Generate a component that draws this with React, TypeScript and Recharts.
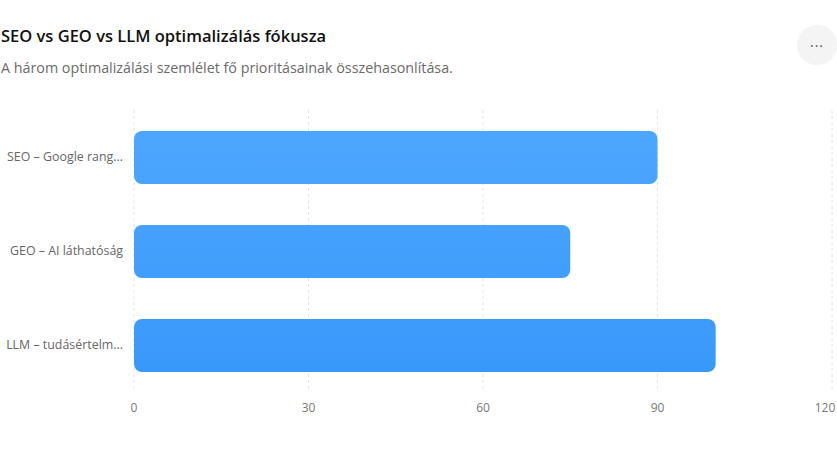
import { BarChart, Bar, XAxis, YAxis, CartesianGrid } from "recharts";

const categories = [
  "SEO – Google rangsorolás",
  "GEO – AI láthatóság",
  "LLM – tudásértelmezés",
];
const focusValues = [90, 75, 100];
const xTicks = [0, 30, 60, 90, 120];

const data = categories.map((name, i) => ({ name, value: focusValues[i] }));

const font = "'Open Sans', 'Noto Sans', sans-serif";

const shorten = (s: string) => (s.length > 20 ? s.slice(0, 17) + "..." : s);

const XTick = (props: any) => {
  const { x, y, payload } = props;
  // keep the last label inside the frame
  const cx = Math.min(x, 826);
  return (
    <text x={cx} y={y} dy={12} textAnchor="middle" fill="#777" fontSize={12} fontFamily={font}>
      {payload.value}
    </text>
  );
};

const YTick = (props: any) => {
  const { x, y, payload } = props;
  return (
    <text x={x + 3} y={y} dy={4} textAnchor="end" fill="#666" fontSize={12.4} fontFamily={font}>
      {shorten(payload.value)}
    </text>
  );
};

export default function App() {
  return (
    <div style={{ position: "absolute", left: 0, top: 0, width: 837, height: 471, background: "#fff", fontFamily: font }}>
      <div style={{ position: "absolute", left: 1, top: 24, fontSize: 16.5, fontWeight: 600, color: "#111" }}>
        SEO vs GEO vs LLM optimalizálás fókusza
      </div>
      <div style={{ position: "absolute", left: 1, top: 58, fontSize: 14.3, color: "#6a6a6a" }}>
        A három optimalizálási szemlélet fő prioritásainak összehasonlítása.
      </div>
      <div
        style={{
          position: "absolute",
          left: 797,
          top: 25,
          width: 40,
          height: 40,
          borderRadius: 20,
          background: "#f4f4f4",
          color: "#555",
          fontSize: 14,
          lineHeight: "34px",
          textAlign: "center",
          letterSpacing: 1,
        }}
      >
        ...
      </div>
      <div style={{ position: "absolute", left: 0, top: 100 }}>
        <BarChart
          width={837}
          height={342}
          data={data}
          layout="vertical"
          margin={{ top: 10, right: 5, bottom: 20, left: 0 }}
        >
          <defs>
            <linearGradient id="barBlue" x1="0" y1="10" x2="0" y2="292" gradientUnits="userSpaceOnUse">
              <stop offset="0%" stopColor="#4fa8fe" />
              <stop offset="100%" stopColor="#3797fb" />
            </linearGradient>
          </defs>
          <CartesianGrid horizontal={false} strokeDasharray="3 3" stroke="#e6e6e6" />
          <XAxis
            type="number"
            domain={[0, 120]}
            ticks={xTicks}
            axisLine={false}
            tickLine={false}
            tick={<XTick />}
          />
          <YAxis
            type="category"
            dataKey="name"
            width={134}
            axisLine={false}
            tickLine={false}
            tick={<YTick />}
            tickMargin={8}
          />
          <Bar dataKey="value" barSize={53} fill="url(#barBlue)" radius={8} isAnimationActive={false} />
        </BarChart>
      </div>
    </div>
  );
}
